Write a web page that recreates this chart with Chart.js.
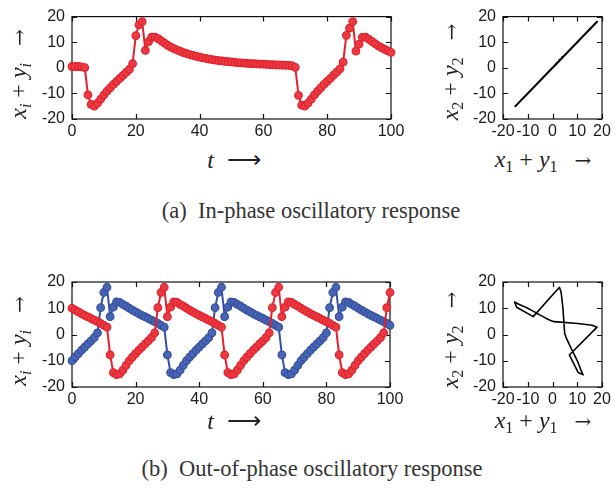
<!DOCTYPE html>
<html>
<head>
<meta charset="utf-8">
<script src="https://cdn.jsdelivr.net/npm/chart.js@4.4.1/dist/chart.umd.min.js"></script>
<style>
  html, body { margin: 0; padding: 0; background: #fff; }
  body { position: relative; width: 615px; height: 490px; overflow: hidden; }
  canvas { position: absolute; }
  .m { position: absolute; white-space: nowrap; font-family: "Liberation Serif", serif; font-size: 24px; color: #222; line-height: 1; transform: translate(-50%, -50%); }
  .m.v { transform: translate(-50%, -50%) rotate(-90deg); }
  .m i { font-style: italic; }
  .m sub { font-size: 16px; vertical-align: -5px; line-height: 0; }
  .m .op { margin: 0 6px; }
  .m .arr { margin-left: 17px; font-family: "DejaVu Serif", serif; font-size: 20px; }
  .m .larr { margin-left: 13px; }
  .cap { position: absolute; white-space: nowrap; font-family: "Liberation Serif", serif; font-size: 22.5px; color: #333; line-height: 1; transform: translate(-50%, -50%); }
</style>
</head>
<body>
<canvas id="aMain" width="410" height="145" style="left:0;top:0"></canvas>
<canvas id="aPhase" width="160" height="145" style="left:455px;top:0"></canvas>
<canvas id="bMain" width="410" height="150" style="left:0;top:265px"></canvas>
<canvas id="bPhase" width="160" height="150" style="left:455px;top:265px"></canvas>

<div class="m v" style="left:18px;top:74px"><i>x</i><sub><i>i</i></sub><span class="op">+</span><i>y</i><sub><i>i</i></sub><span class="arr">&rarr;</span></div>
<div class="m" style="left:234px;top:160px"><i>t</i><span class="larr">&#10230;</span></div>
<div class="m v" style="left:450px;top:72px"><i>x</i><sub>2</sub><span class="op">+</span><i>y</i><sub>2</sub><span class="arr">&rarr;</span></div>
<div class="m" style="left:543px;top:159px"><i>x</i><sub>1</sub><span class="op">+</span><i>y</i><sub>1</sub><span class="arr">&rarr;</span></div>
<div class="cap" style="left:311px;top:211px">(a)&nbsp; In-phase oscillatory response</div>

<div class="m v" style="left:18px;top:341px"><i>x</i><sub><i>i</i></sub><span class="op">+</span><i>y</i><sub><i>i</i></sub><span class="arr">&rarr;</span></div>
<div class="m" style="left:234px;top:421px"><i>t</i><span class="larr">&#10230;</span></div>
<div class="m v" style="left:450px;top:340px"><i>x</i><sub>2</sub><span class="op">+</span><i>y</i><sub>2</sub><span class="arr">&rarr;</span></div>
<div class="m" style="left:543px;top:420px"><i>x</i><sub>1</sub><span class="op">+</span><i>y</i><sub>1</sub><span class="arr">&rarr;</span></div>
<div class="cap" style="left:312px;top:469px">(b)&nbsp; Out-of-phase oscillatory response</div>

<script>
// Sampling instants t = 0 … 100 (unit step)
const timeSteps = Array.from({ length: 101 }, (_, i) => i);

// Axis ranges and tick spacing
const timeRange = [0, 100];
const timeTickStep = 20;
const responseRange = [-20, 20];
const responseTickStep = 10;

// (a) in-phase response: both oscillators follow the same trace x_i + y_i
const inPhase = [
  0.5, 0.5, 0.5, 0.4, 0.1,
  -10.6, -14.3, -15.0, -13.8, -12.2,
  -10.6, -9.1, -7.8, -6.5, -5.3,
  -4.1, -3.0, -1.8, -0.6, 1.6,
  12.6, 16.8, 18.0, 6.8, 10.2,
  12.0, 12.0, 11.4, 10.5, 9.6,
  8.8, 8.1, 7.5, 6.9, 6.4,
  5.9, 5.5, 5.1, 4.8, 4.5,
  4.2, 3.9, 3.7, 3.4, 3.2,
  3.0, 2.8, 2.7, 2.5, 2.4,
  2.3, 2.1, 2.0, 1.9, 1.8,
  1.7, 1.6, 1.6, 1.5, 1.4,
  1.4, 1.3, 1.2, 1.2, 1.1,
  1.1, 1.0, 1.0, 0.9, 0.8,
  0.2, -10.8, -14.6, -15.0, -13.8,
  -12.2, -10.6, -9.1, -7.8, -6.5,
  -5.3, -4.1, -2.9, -1.7, -0.4,
  2.2, 12.7, 15.5, 18.0, 6.5,
  9.2, 11.9, 12.0, 11.2, 10.3,
  9.4, 8.6, 7.9, 7.2, 6.6,
  6.0
];

// (b) out-of-phase response: oscillator 1 (red) and oscillator 2 (blue)
const outPhase1 = [
  10.0, 9.3, 8.6, 7.9, 7.3,
  6.7, 6.1, 5.5, 4.9, 4.2,
  3.5, 2.8, -7.8, -14.5, -15.3,
  -15.0, -13.6, -11.8, -10.0, -8.6,
  -7.3, -6.0, -4.8, -3.6, -2.4,
  -1.2, 0.6, 10.2, 16.0, 18.0,
  6.8, 10.4, 12.4, 12.2, 11.5,
  10.8, 10.0, 9.3, 8.6, 7.9,
  7.3, 6.7, 6.1, 5.5, 4.9,
  4.2, 3.5, 2.8, -7.8, -14.5,
  -15.3, -15.0, -13.6, -11.8, -10.0,
  -8.6, -7.3, -6.0, -4.8, -3.6,
  -2.4, -1.2, 0.6, 10.2, 16.0,
  18.0, 6.8, 10.4, 12.4, 12.2,
  11.5, 10.8, 10.0, 9.3, 8.6,
  7.9, 7.3, 6.7, 6.1, 5.5,
  4.9, 4.2, 3.5, 2.8, -7.8,
  -14.5, -15.3, -15.0, -13.6, -11.8,
  -10.0, -8.6, -7.3, -6.0, -4.8,
  -3.6, -2.4, -1.2, 0.6, 10.2,
  16.0
];
const outPhase2 = [
  -10.0, -8.6, -7.3, -6.0, -4.8,
  -3.6, -2.4, -1.2, 0.6, 10.2,
  16.0, 18.0, 6.8, 10.4, 12.4,
  12.2, 11.5, 10.8, 10.0, 9.3,
  8.6, 7.9, 7.3, 6.7, 6.1,
  5.5, 4.9, 4.2, 3.5, 2.8,
  -7.8, -14.5, -15.3, -15.0, -13.6,
  -11.8, -10.0, -8.6, -7.3, -6.0,
  -4.8, -3.6, -2.4, -1.2, 0.6,
  10.2, 16.0, 18.0, 6.8, 10.4,
  12.4, 12.2, 11.5, 10.8, 10.0,
  9.3, 8.6, 7.9, 7.3, 6.7,
  6.1, 5.5, 4.9, 4.2, 3.5,
  2.8, -7.8, -14.5, -15.3, -15.0,
  -13.6, -11.8, -10.0, -8.6, -7.3,
  -6.0, -4.8, -3.6, -2.4, -1.2,
  0.6, 10.2, 16.0, 18.0, 6.8,
  10.4, 12.4, 12.2, 11.5, 10.8,
  10.0, 9.3, 8.6, 7.9, 7.3,
  6.7, 6.1, 5.5, 4.9, 4.2,
  3.5
];

const RED = '#e3212b';
const RED_FILL = '#ea3a43';
const BLUE = '#3450a2';
const BLUE_FILL = '#4864b2';
const INK = '#111';

// Box frame with inward tick marks on all four sides
const boxFrame = {
  id: 'boxFrame',
  beforeDatasetsDraw(chart) {
    const { ctx, chartArea: a, scales: { x, y } } = chart;
    const L = 5;
    ctx.save();
    ctx.strokeStyle = INK;
    ctx.lineWidth = 1.2;
    ctx.strokeRect(a.left, a.top, a.right - a.left, a.bottom - a.top);
    ctx.beginPath();
    x.ticks.forEach(tk => {
      const px = Math.round(x.getPixelForValue(tk.value)) + 0.5;
      ctx.moveTo(px, a.bottom); ctx.lineTo(px, a.bottom - L);
      ctx.moveTo(px, a.top); ctx.lineTo(px, a.top + L);
    });
    y.ticks.forEach(tk => {
      const py = Math.round(y.getPixelForValue(tk.value)) + 0.5;
      ctx.moveTo(a.left, py); ctx.lineTo(a.left + L, py);
      ctx.moveTo(a.right, py); ctx.lineTo(a.right - L, py);
    });
    ctx.stroke();
    ctx.restore();
  }
};

function axisOptions(xr, xStep, yr, yStep, yWidth, xHeight, pad) {
  const tickFont = { family: '"Liberation Sans", Arial, sans-serif', size: 16 };
  return {
    responsive: false,
    animation: false,
    devicePixelRatio: 1,
    layout: { padding: pad },
    plugins: { legend: { display: false }, tooltip: { enabled: false } },
    elements: { line: { tension: 0 } },
    scales: {
      x: {
        type: 'linear', min: xr[0], max: xr[1],
        ticks: { stepSize: xStep, padding: 3, color: '#1a1a1a', font: tickFont, maxRotation: 0, autoSkip: false },
        grid: { display: false, drawTicks: false },
        border: { display: false },
        afterFit(s) { s.height = xHeight; }
      },
      y: {
        type: 'linear', min: yr[0], max: yr[1],
        ticks: { stepSize: yStep, padding: 7, color: '#1a1a1a', font: tickFont, autoSkip: false },
        grid: { display: false, drawTicks: false },
        border: { display: false },
        afterFit(s) { s.width = yWidth; }
      }
    }
  };
}

function timeSeries(values, line, fill) {
  return {
    data: values.map((v, i) => ({ x: timeSteps[i], y: v })),
    showLine: true,
    borderColor: line,
    backgroundColor: fill,
    borderWidth: 2,
    borderJoinStyle: 'round',
    pointRadius: 3.8,
    pointBorderWidth: 1.2,
    pointBorderColor: line,
    pointBackgroundColor: fill,
    clip: false
  };
}

function phasePath(xs, ys, width) {
  return {
    data: xs.map((v, i) => ({ x: v, y: ys[i] })),
    showLine: true,
    borderColor: '#000',
    borderWidth: width,
    borderJoinStyle: 'round',
    borderCapStyle: 'round',
    pointRadius: 0,
    clip: false
  };
}

// (a) time trace
new Chart(document.getElementById('aMain'), {
  type: 'scatter',
  data: { datasets: [timeSeries(inPhase, RED, RED_FILL)] },
  options: axisOptions(timeRange, timeTickStep, responseRange, responseTickStep, 72, 26,
    { top: 15, right: 19, left: 0, bottom: 0 }),
  plugins: [boxFrame]
});

// (a) phase portrait: oscillator 1 against oscillator 2
new Chart(document.getElementById('aPhase'), {
  type: 'scatter',
  data: { datasets: [phasePath(inPhase, inPhase, 2)] },
  options: axisOptions(responseRange, responseTickStep, responseRange, responseTickStep, 48, 26,
    { top: 15, right: 13, left: 0, bottom: 0 }),
  plugins: [boxFrame]
});

// (b) time traces, red drawn above blue
new Chart(document.getElementById('bMain'), {
  type: 'scatter',
  data: { datasets: [timeSeries(outPhase1, RED, RED_FILL), timeSeries(outPhase2, BLUE, BLUE_FILL)] },
  options: axisOptions(timeRange, timeTickStep, responseRange, responseTickStep, 72, 28,
    { top: 17, right: 20, left: 0, bottom: 0 }),
  plugins: [boxFrame]
});

// (b) phase portrait
new Chart(document.getElementById('bPhase'), {
  type: 'scatter',
  data: { datasets: [phasePath(outPhase1, outPhase2, 1.6)] },
  options: axisOptions(responseRange, responseTickStep, responseRange, responseTickStep, 48, 28,
    { top: 17, right: 13, left: 0, bottom: 0 }),
  plugins: [boxFrame]
});
</script>
</body>
</html>
